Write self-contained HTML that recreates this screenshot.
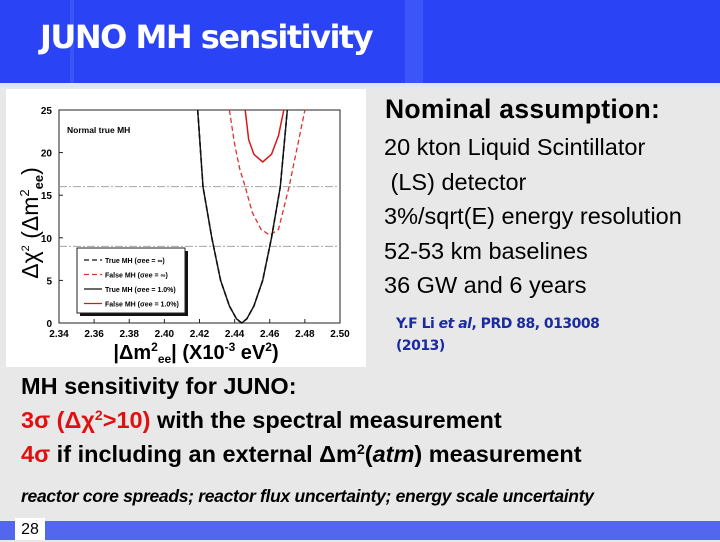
<!DOCTYPE html>
<html><head><meta charset="utf-8"><style>
body{margin:0;width:720px;height:540px;overflow:hidden;background:#e8e8e8;font-family:"Liberation Sans",sans-serif;position:relative}
.abs{position:absolute;white-space:nowrap}
.r{color:#e01010}
sup{font-size:14px;line-height:0;vertical-align:8px}
</style></head><body>
<div class="abs" style="left:0;top:0;width:720px;height:83px;background:#2a44f5"></div>
<div class="abs" style="left:70px;top:0;width:4px;height:83px;background:#3a55f7"></div>
<div class="abs" style="left:405px;top:0;width:18px;height:83px;background:#3b55f6"></div>
<div class="abs" style="left:40px;top:18px;font-size:32px;color:#fff;font-family:'DejaVu Sans',sans-serif;font-weight:bold;letter-spacing:-1.5px">JUNO MH sensitivity</div>
<div class="abs" style="left:0;top:83px;width:720px;height:4px;background:#dde4f5"></div>

<svg class="abs" style="left:6px;top:89px" width="360" height="278" id="chart"></svg>

<div class="abs" style="left:385px;top:94px;font-size:26.5px;font-weight:bold;letter-spacing:0.3px">Nominal assumption:</div>
<div class="abs" style="left:384px;top:130px;font-size:23.5px;line-height:34.5px">20 kton Liquid Scintillator<br>&nbsp;(LS) detector<br>3%/sqrt(E) energy resolution<br>52-53 km baselines<br>36 GW and 6 years</div>
<div class="abs" style="left:396px;top:313px;font-size:14px;line-height:22px;font-weight:bold;color:#1a2aa0;font-family:'DejaVu Sans',sans-serif;letter-spacing:-0.5px">Y.F Li <i>et al</i>, PRD 88, 013008<br>(2013)</div>

<div class="abs" style="left:21px;top:369px;font-size:23.5px;line-height:34px;font-weight:bold">MH sensitivity for JUNO:<br><span class="r">3σ (Δχ<sup>2</sup>&gt;10)</span> with the spectral measurement<br><span class="r">4σ</span> if including an external Δm<sup>2</sup>(<i>atm</i>) measurement</div>
<div class="abs" style="left:21px;top:486px;font-size:17.5px;font-weight:bold;font-style:italic;letter-spacing:-0.3px">reactor core spreads; reactor flux uncertainty; energy scale uncertainty</div>
<div class="abs" style="left:0;top:521px;width:720px;height:19px;background:#5266ee"></div>
<div class="abs" style="left:15px;top:518px;width:30px;height:22px;background:#fff;font-size:16px;text-align:center;line-height:24px">28</div>

<script>
const xTicks=[2.34,2.36,2.38,2.40,2.42,2.44,2.46,2.48,2.50];
const yTicks=[0,5,10,15,20,25];
const trueX=[2.419,2.422,2.427,2.432,2.437,2.441,2.444,2.447,2.451,2.456,2.461,2.466,2.470];
const trueY=[25,16,10,5,2,0.5,0,0.5,2,5,10,16,25];
const falseInfX=[2.437,2.440,2.443,2.446,2.450,2.455,2.460,2.465,2.471,2.476,2.480];
const falseInfY=[25,21,18,16,13,11,10.3,11,16,21,25];
const false1X=[2.446,2.448,2.451,2.456,2.461,2.465,2.468];
const false1Y=[25,21.5,19.8,18.9,19.8,22,25];
const refLines=[16,9];
const legendLabels=["True MH (σee = ∞)","False MH (σee = ∞)","True MH (σee = 1.0%)","False MH (σee = 1.0%)"];

const svg=document.getElementById('chart');
const NS='http://www.w3.org/2000/svg';
const L=53,R=334,T=21,B=234;
const sx=v=>L+(v-2.34)/(2.50-2.34)*(R-L);
const sy=v=>B-(v/25)*(B-T);
function el(t,a,txt){const e=document.createElementNS(NS,t);for(const k in a)e.setAttribute(k,a[k]);if(txt!==undefined)e.textContent=txt;svg.appendChild(e);return e;}
let bg=el('rect',{x:0,y:0,width:360,height:278,fill:'#fff'});


let pa=el('rect',{x:L,y:T,width:R-L,height:B-T,fill:'none',stroke:'#222','stroke-width':1});


xTicks.forEach(v=>{
  el('line',{x1:sx(v),x2:sx(v),y1:B,y2:B-4,stroke:'#222'});
  let t=el('text',{x:sx(v),y:B+14,'font-size':10,'font-weight':'bold','text-anchor':'middle','font-family':'Liberation Sans'},v.toFixed(2));
  
  
});
yTicks.forEach(v=>{
  el('line',{x1:L,x2:L+4,y1:sy(v),y2:sy(v),stroke:'#222'});
  let t=el('text',{x:L-7,y:sy(v)+4,'font-size':10,'font-weight':'bold','text-anchor':'end','font-family':'Liberation Sans'},v);
  
  
});
refLines.forEach(v=>{
  let l=el('line',{x1:L,x2:R,y1:sy(v),y2:sy(v),stroke:'#999','stroke-dasharray':'8 2 2 2','stroke-width':0.8});
  
  
});
function curve(xs,ys,col,dash,w,name){
  const d=xs.map((x,i)=>(i?'L':'M')+sx(x).toFixed(1)+','+sy(ys[i]).toFixed(1)).join('');
  const p=el('path',{d:d,fill:'none',stroke:col,'stroke-width':w,'stroke-dasharray':dash,'stroke-linejoin':'round'});
  
  
}
curve(falseInfX,falseInfY,'#e03030','5 3',1.3,'false-mh-inf-curve');
curve(false1X,false1Y,'#d81818','none',1.5,'false-mh-1pct-curve');
curve(trueX,trueY,'#111','none',1.4,'true-mh-1pct-curve');
curve(trueX,trueY,'#111','5 3',1.6,'true-mh-inf-curve');
let nl=el('text',{x:61,y:44,'font-size':8.5,'font-weight':'bold','font-family':'Liberation Sans'},'Normal true MH');


el('rect',{x:74,y:162,width:108,height:65,fill:'#111'});
let lg=el('rect',{x:71,y:159,width:108,height:65,fill:'#fff',stroke:'#222'});


const lc=[['#111','5 3'],['#e03030','5 3'],['#111','none'],['#d81818','none']];
legendLabels.forEach((s,i)=>{
  const y=171+i*14.5;
  el('line',{x1:78,x2:96,y1:y,y2:y,stroke:lc[i][0],'stroke-dasharray':lc[i][1],'stroke-width':1.3});
  let t=el('text',{x:99,y:y+3,'font-size':7,'font-weight':'bold','font-family':'Liberation Sans'},s);
  
  
});
let yl=el('text',{x:0,y:0,'font-size':23,'font-family':'Liberation Sans','text-anchor':'middle',transform:'translate(32,134) rotate(-90)'});
yl.innerHTML='Δχ<tspan font-size="11" dy="-9">2</tspan><tspan dy="9"> (Δm</tspan><tspan font-size="13" dy="-9">2</tspan><tspan font-size="13" font-weight="bold" dy="14">ee</tspan><tspan dy="-5">)</tspan>';


let xl=el('text',{x:190,y:270,'font-size':20,'font-weight':'bold','font-family':'Liberation Sans','text-anchor':'middle'});
xl.innerHTML='|Δm<tspan font-size="12" dy="-8">2</tspan><tspan font-size="12" dy="12">ee</tspan><tspan dy="-4">| (X10</tspan><tspan font-size="12" dy="-8">-3</tspan><tspan dy="8"> eV</tspan><tspan font-size="12" dy="-8">2</tspan><tspan dy="8">)</tspan>';


</script>
</body></html>
